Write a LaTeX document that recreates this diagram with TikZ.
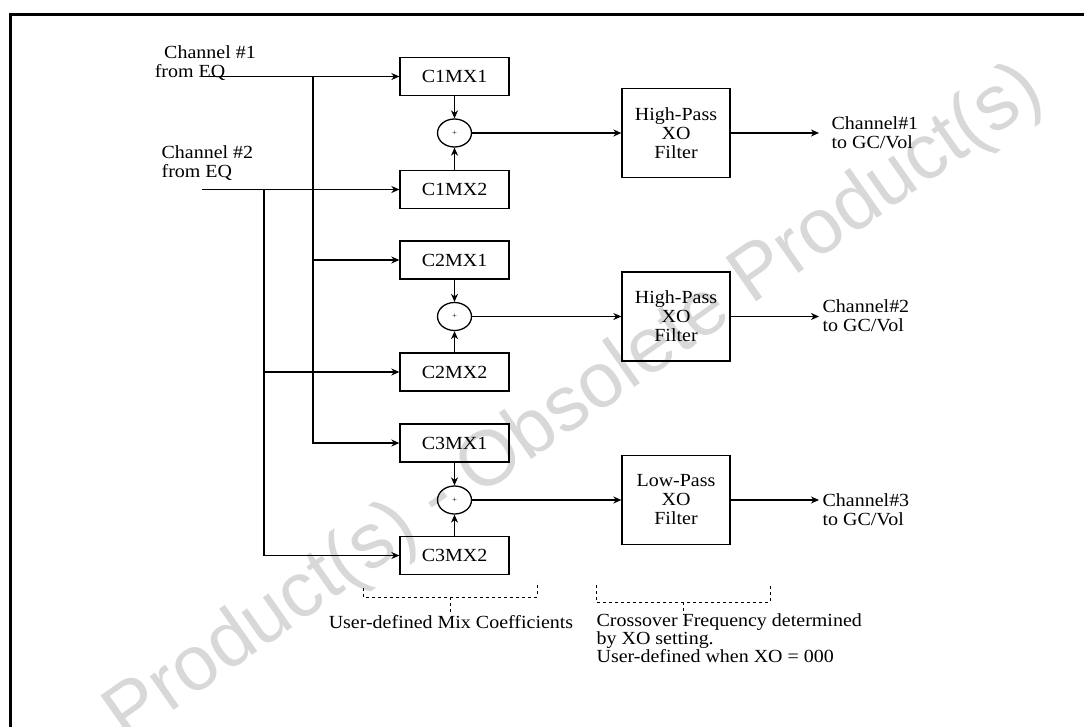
\documentclass[tikz,border=0pt]{standalone}
\usepackage{fontspec}
\setmainfont{Liberation Serif}[FakeStretch=1.08]
\newfontfamily\wmfont{Liberation Sans}
\usetikzlibrary{arrows.meta,shapes.geometric}
\definecolor{wmgray}{RGB}{216,216,216}

\tikzset{
  mixbox/.style={draw, minimum width=109pt, minimum height=38pt, inner sep=0pt},
  sumnode/.style={draw, ellipse, minimum width=34pt, minimum height=28pt, inner sep=0pt,
    font=\fontsize{8}{8}\selectfont},
  xobox/.style={draw, minimum width=108pt, minimum height=89pt, inner sep=0pt, align=center},
  chlabel/.style={inner sep=0pt, align=left},
  bracket/.style={line width=0.9pt, dash pattern=on 3pt off 3pt}
}

\begin{document}
\begin{tikzpicture}[x=1pt, y=-1pt, line width=1.3pt,
    >={Stealth[length=8pt, width=7pt, inset=2.5pt]},
    every node/.style={font=\fontsize{18.5}{19}\selectfont}]
  \useasboundingbox (0,0) rectangle (1084,726);

  % watermark
  \node[rotate=35, text=wmgray, inner sep=0pt, font=\wmfont\fontsize{78}{78}\selectfont]
    (wm) at (575,405) {Product(s) - Obsolete Product(s)};

  % frame
  \draw[line width=3pt] (10,760) -- (10,14) -- (1100,14);

  % inputs
  \node[chlabel] (lab1a) at (210,52) {Channel \#1};
  \node[chlabel] (lab1b) at (190,72) {from EQ};
  \node[chlabel, anchor=west] (lab2) at (161,163.5) {Channel \#2\\from EQ};
  \coordinate (in1) at (202,76.5);
  \coordinate (in2) at (202,189.5);
  \coordinate (bus1) at (313,76.5);
  \coordinate (bus2) at (264,189.5);

  % mix coefficients
  \node[mixbox] (m11) at (454.5,76.5) {C1MX1};
  \node[mixbox] (m12) at (454.5,189.5) {C1MX2};
  \node[mixbox] (m21) at (454.5,260) {C2MX1};
  \node[mixbox] (m22) at (454.5,372) {C2MX2};
  \node[mixbox] (m31) at (454.5,443) {C3MX1};
  \node[mixbox] (m32) at (454.5,555.5) {C3MX2};

  \node[sumnode] (s1) at (454.5,133) {+};
  \node[sumnode] (s2) at (454.5,316.5) {+};
  \node[sumnode] (s3) at (454.5,500) {+};

  % filters
  \node[xobox] (f1) at (676,133) {High-Pass\\XO\\Filter};
  \node[xobox] (f2) at (676,316.5) {High-Pass\\XO\\Filter};
  \node[xobox] (f3) at (676,500) {Low-Pass\\XO\\Filter};

  % outputs
  \coordinate (o1) at (819,133);
  \coordinate (o2) at (819,316.5);
  \coordinate (o3) at (819,500);
  \node[chlabel, anchor=west] (out1) at (831,133) {Channel\#1\\to GC/Vol};
  \node[chlabel, anchor=west] (out2) at (822,316) {Channel\#2\\to GC/Vol};
  \node[chlabel, anchor=west] (out3) at (822,510) {Channel\#3\\to GC/Vol};

  % wiring
  \draw[->] (in1) -- (m11);
  \draw[->] (in2) -- (m12);
  \draw (bus1) -- (bus1 |- m31);
  \draw[->] (bus1) |- (m21);
  \draw[->] (bus1) |- (m31);
  \draw (bus2) -- (bus2 |- m32);
  \draw[->] (bus2) |- (m22);
  \draw[->] (bus2) |- (m32);

  \draw[->] (m11) -- (s1);
  \draw[->] (m12) -- (s1);
  \draw[->] (m21) -- (s2);
  \draw[->] (m22) -- (s2);
  \draw[->] (m31) -- (s3);
  \draw[->] (m32) -- (s3);

  \draw[->] (s1) -- (f1);
  \draw[->] (s2) -- (f2);
  \draw[->] (s3) -- (f3);
  \draw[->] (f1) -- (o1);
  \draw[->] (f2) -- (o2);
  \draw[->] (f3) -- (o3);

  % notes
  \draw[bracket] (363,588) |- (537,597) -- (537,582);
  \draw[bracket] (450,597) -- (450,613);
  \node[inner sep=0pt] (mixnote) at (451,622) {User-defined Mix Coefficients};
  \draw[bracket] (596,585) |- (770,602) -- (770,585);
  \draw[bracket] (683,602) -- (683,615);
  \node[chlabel, anchor=north west, font=\fontsize{18.5}{18}\selectfont] (xonote) at (596,613)
    {Crossover Frequency determined\\by XO setting.\\User-defined when XO = 000};
\end{tikzpicture}
\end{document}
